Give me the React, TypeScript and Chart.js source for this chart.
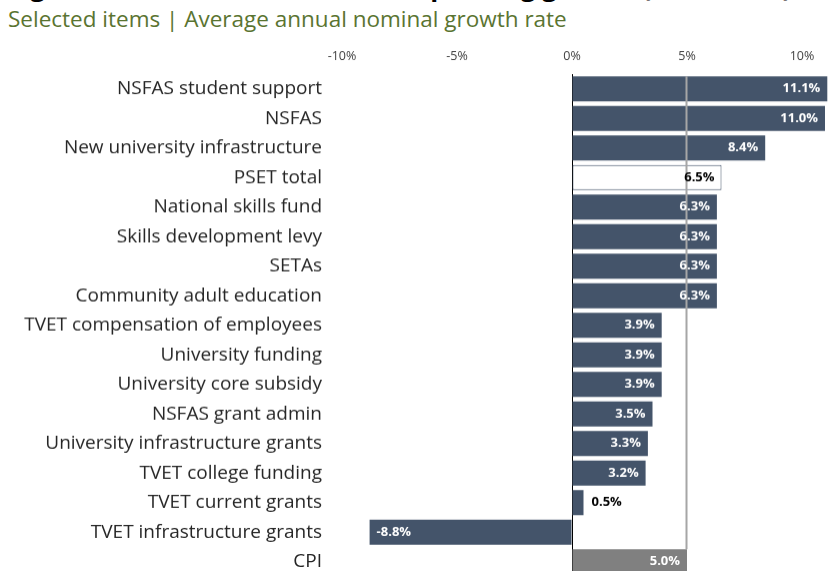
import React, { useEffect, useRef } from "react";
import { Chart, registerables } from "chart.js";

Chart.register(...registerables);

const categories = [
  "NSFAS student support",
  "NSFAS",
  "New university infrastructure",
  "PSET total",
  "National skills fund",
  "Skills development levy",
  "SETAs",
  "Community adult education",
  "TVET compensation of employees",
  "University funding",
  "University core subsidy",
  "NSFAS grant admin",
  "University infrastructure grants",
  "TVET college funding",
  "TVET current grants",
  "TVET infrastructure grants",
  "CPI",
];

const growthValues = [11.1, 11.0, 8.4, 6.5, 6.3, 6.3, 6.3, 6.3, 3.9, 3.9, 3.9, 3.5, 3.3, 3.2, 0.5, -8.8, 5.0];

const tickValues = [-10, -5, 0, 5, 10];
const cpiLabel = "CPI";
const totalLabel = "PSET total";

const titleText = "Figure 7: Post-school education spending growth (2024–2027)";
const subtitleText = "Selected items | Average annual nominal growth rate";

const FONT = "'Open Sans', 'Noto Sans', sans-serif";
const BAR = "#44546a";

export default function App() {
  const canvasRef = useRef<HTMLCanvasElement | null>(null);

  useEffect(() => {
    if (!canvasRef.current) return;
    const cpiIndex = categories.indexOf(cpiLabel);
    const cpiValue = growthValues[cpiIndex];
    const totalIndex = categories.indexOf(totalLabel);

    const bg = categories.map((_, i) => (i === cpiIndex ? "#808080" : i === totalIndex ? "#ffffff" : BAR));
    const bw = categories.map((_, i) => (i === totalIndex ? 1 : 0));

    const overlay = {
      id: "overlay",
      afterDatasetsDraw(chart: any) {
        const { ctx } = chart;
        const meta = chart.getDatasetMeta(0);
        const xs = chart.scales.x;
        const first: any = meta.data[0];
        const cpiBar: any = meta.data[cpiIndex];
        const lx = Math.round(xs.getPixelForValue(cpiValue)) - 0.5;
        ctx.save();
        ctx.strokeStyle = "#a6a6a6";
        ctx.lineWidth = 2;
        ctx.beginPath();
        ctx.moveTo(lx, first.y - first.height / 2);
        ctx.lineTo(lx, cpiBar.y - cpiBar.height / 2);
        ctx.stroke();
        ctx.font = `bold 13px ${FONT}`;
        ctx.textBaseline = "middle";
        meta.data.forEach((el: any, i: number) => {
          const v = growthValues[i];
          const text = v.toFixed(1) + "%";
          const tw = ctx.measureText(text).width;
          const w = Math.abs(el.x - el.base);
          const pad = 7;
          if (tw + pad * 2 <= w) {
            ctx.fillStyle = i === totalIndex ? "#000000" : "#ffffff";
            if (v >= 0) {
              ctx.textAlign = "right";
              ctx.fillText(text, el.x - pad, el.y);
            } else {
              ctx.textAlign = "left";
              ctx.fillText(text, el.x + pad, el.y);
            }
          } else {
            ctx.fillStyle = "#000000";
            if (v >= 0) {
              ctx.textAlign = "left";
              ctx.fillText(text, el.x + pad + 1, el.y);
            } else {
              ctx.textAlign = "right";
              ctx.fillText(text, el.x - pad - 1, el.y);
            }
          }
        });
        ctx.restore();
      },
    };

    const chart = new Chart(canvasRef.current, {
      type: "bar",
      data: {
        labels: categories,
        datasets: [
          {
            data: growthValues,
            backgroundColor: bg,
            borderColor: BAR,
            borderWidth: bw,
            borderSkipped: false,
            barPercentage: 0.85,
            categoryPercentage: 1,
          },
        ],
      },
      options: {
        indexAxis: "y",
        animation: false,
        responsive: true,
        maintainAspectRatio: false,
        layout: { padding: { top: 10, left: 0, right: 0, bottom: 0 } },
        plugins: {
          legend: { display: false },
          tooltip: { enabled: false },
          title: { display: false },
        },
        scales: {
          x: {
            type: "linear",
            position: "top",
            min: -242 / 23,
            max: 257 / 23,
            bounds: "data",
            afterBuildTicks: (scale: any) => {
              scale.ticks = tickValues.map((v) => ({ value: v }));
            },
            afterFit: (scale: any) => {
              scale.height = 26;
              scale.paddingLeft = 0;
              scale.paddingRight = 0;
            },
            ticks: {
              padding: 10,
              color: "#404040",
              font: { family: FONT, size: 12.5 },
              callback: (v: any) => `${v}%`,
            },
            grid: {
              drawTicks: false,
              color: (c: any) => (c.tick && c.tick.value === 0 ? "#000000" : "rgba(0,0,0,0)"),
              lineWidth: 1,
            },
            border: { display: false },
          },
          y: {
            afterFit: (scale: any) => {
              scale.width = 330;
              scale.paddingTop = 0;
              scale.paddingBottom = 0;
            },
            ticks: {
              padding: 8,
              color: "#262626",
              font: { family: FONT, size: 19 },
              autoSkip: false,
            },
            grid: { display: false, drawTicks: false },
            border: { display: false },
          },
        },
      },
      plugins: [overlay],
    });
    return () => chart.destroy();
  }, []);

  return (
    <div
      style={{
        position: "absolute",
        left: 0,
        top: 0,
        width: 829,
        height: 571,
        overflow: "hidden",
        background: "#ffffff",
      }}
    >
      <div
        style={{
          position: "absolute",
          left: 8,
          top: -27,
          fontFamily: FONT,
          fontWeight: 700,
          fontSize: 26,
          lineHeight: "26px",
          color: "#000000",
          whiteSpace: "nowrap",
        }}
      >
        {titleText}
      </div>
      <div
        style={{
          position: "absolute",
          left: 8,
          top: 9,
          fontFamily: FONT,
          fontSize: 22.5,
          lineHeight: "20px",
          color: "#5a7431",
          whiteSpace: "nowrap",
        }}
      >
        {subtitleText}
      </div>
      <div style={{ position: "absolute", left: 0, top: 38, width: 829, height: 537.5 }}>
        <canvas ref={canvasRef} />
      </div>
    </div>
  );
}
